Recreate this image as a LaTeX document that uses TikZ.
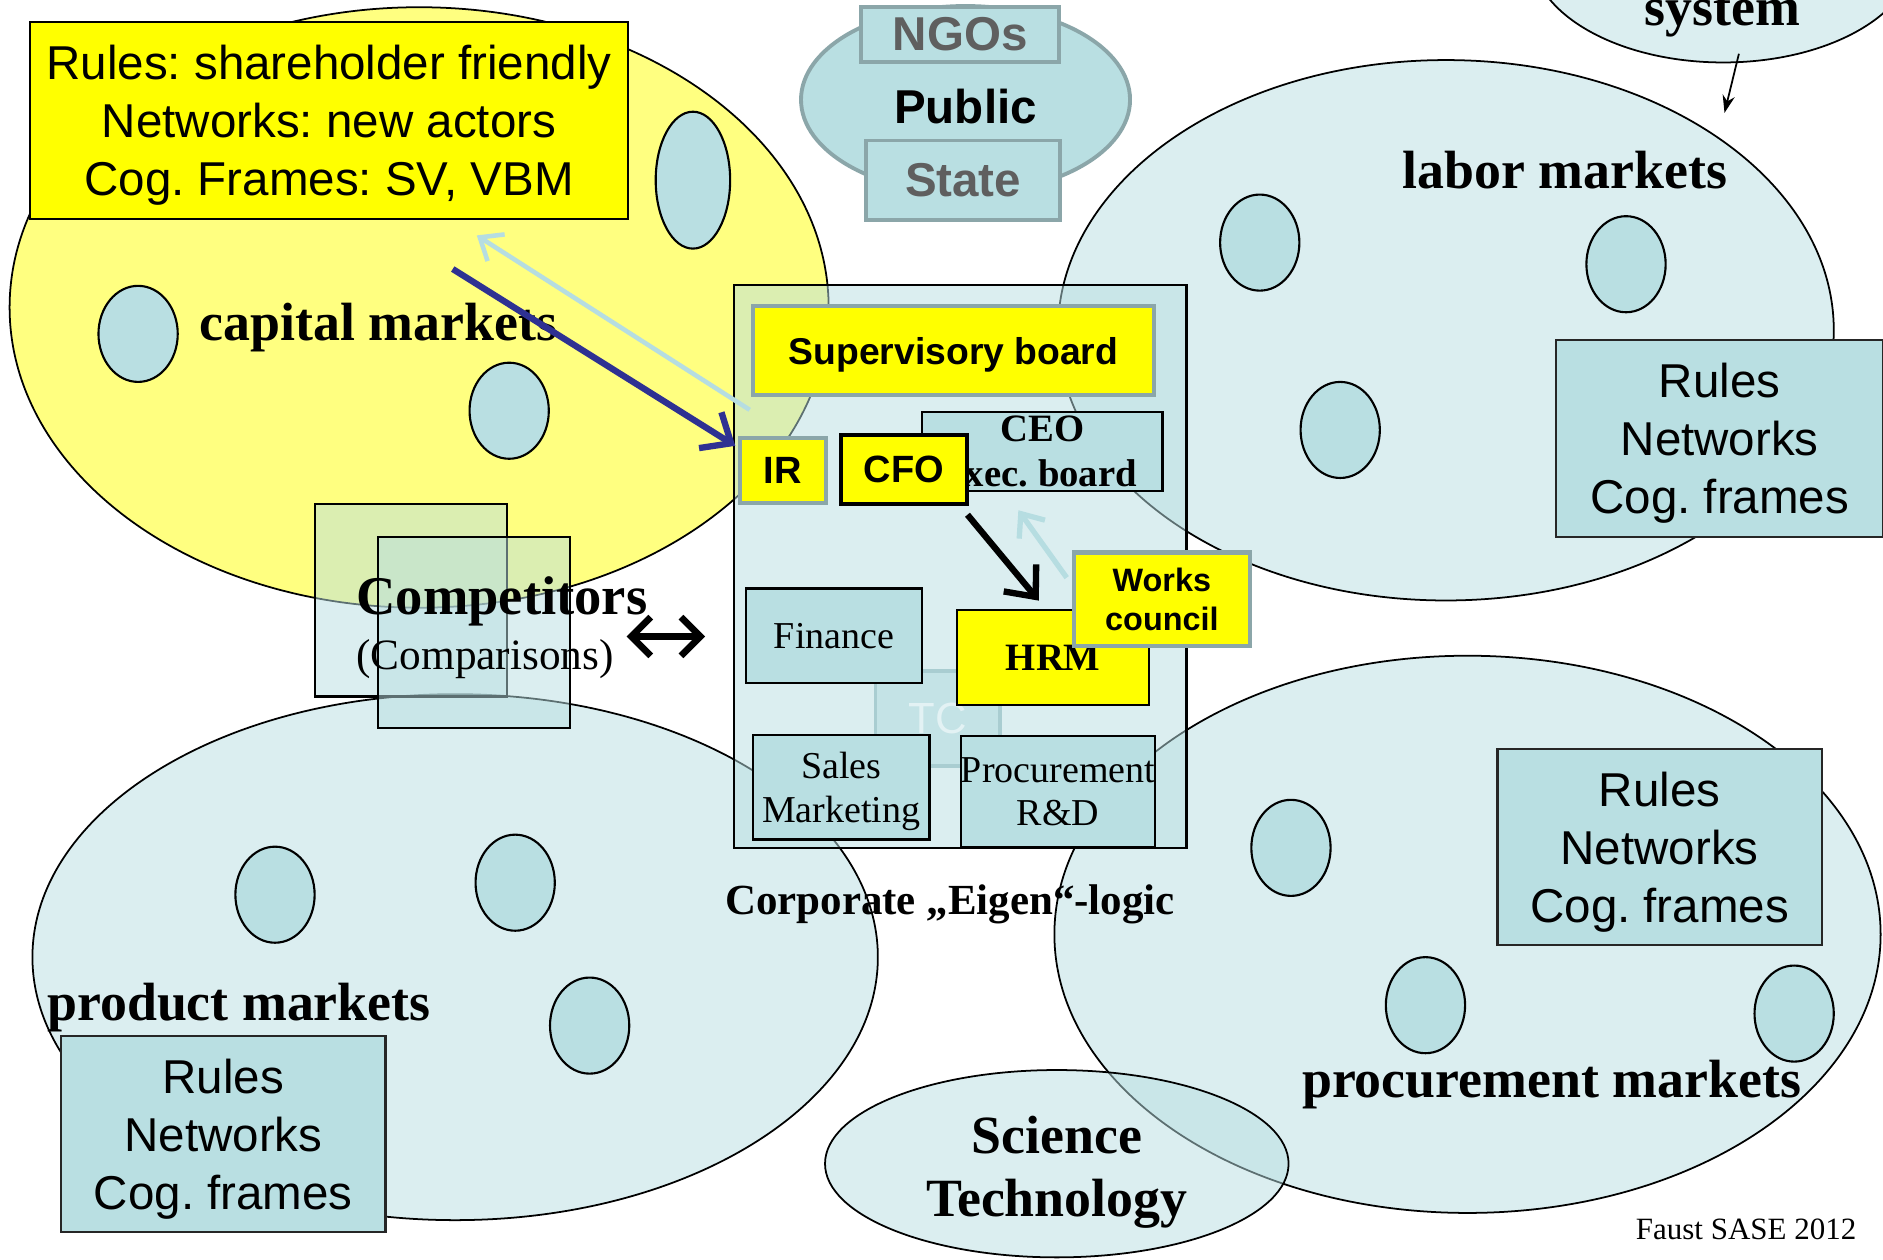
\documentclass[tikz,border=0pt]{standalone}
\usepackage{fontspec}
\setmainfont{Liberation Serif}
\newfontfamily\arial{Liberation Sans}
\usetikzlibrary{shapes.geometric,arrows.meta,calc}
\definecolor{lb}{HTML}{B9DFE2}
\definecolor{gb}{HTML}{8BA6A9}
\definecolor{ly}{HTML}{FFFF80}
\definecolor{yy}{HTML}{FFFF00}
\definecolor{navy}{HTML}{2E3192}
\definecolor{ngrey}{HTML}{5F5F5F}
\definecolor{tcb}{HTML}{A9CDD1}
\definecolor{tcf}{HTML}{C4E3E6}
\definecolor{arrlb}{HTML}{B6DDE1}
\newcommand\U{0.012cm}
\newcommand\fs[2]{\fontsize{#1}{#2}\selectfont}
\frenchspacing
\begin{document}
\frenchspacing
\begin{tikzpicture}[x=0.012cm, y=-0.012cm,
  sz/.style 2 args={minimum width=#1*\U, minimum height=#2*\U},
  bigell/.style={ellipse, draw=black, line width=0.5pt, fill=lb, fill opacity=0.5, inner sep=0pt},
  smell/.style={ellipse, draw=black, line width=0.6pt, fill=lb, minimum width=66*\U, minimum height=80*\U, inner sep=0pt},
  rbox/.style={draw=black!85, line width=0.6pt, fill=lb, inner sep=0pt, align=center, text depth=0pt, font=\arial\fs{13.5}{16.4}},
  ybox/.style={fill=yy, draw=gb, line width=1.2pt, inner sep=0pt, align=center},
  ibox/.style={draw=black, line width=0.6pt, fill=lb, inner sep=0pt, align=center, font=\fs{10.8}{12.3}},
  lab/.style={font=\bfseries\fs{15.3}{18}, inner sep=0pt, align=center},
  tbox/.style={draw=black, line width=0.6pt, fill=lb, fill opacity=0.5, inner sep=0pt},
  barb/.style={-{Straight Barb[length=7pt,width=12pt]}}
]
\useasboundingbox (0,0) rectangle (1568,1049);
\fill[white] (0,0) rectangle (1568,1049);
\clip (0,0) rectangle (1568,1049);

% big ellipses
\node[bigell, fill=ly, fill opacity=1, sz={682}{500}] (capm) at (349,256) {};
\node[bigell, sz={646}{450}] (labm) at (1204,275) {};
\node[bigell, sz={704}{438}] (prodm) at (379,797) {};
\node[bigell, sz={688}{464}] (procm) at (1222,778) {};
\node[bigell, sz={386}{156}] (scim) at (880,969) {};
\node[bigell, sz={320}{184}] (sysm) at (1435,-40) {};

% small ellipses
\node[smell, minimum width=62*\U, minimum height=114*\U] (c1) at (577,150) {};
\node[smell] (c2) at (115,278) {};
\node[smell] (c3) at (424,342) {};
\node[smell] (l1) at (1049,202) {};
\node[smell] (l2) at (1354,220) {};
\node[smell] (l3) at (1116,358) {};
\node[smell] (p1) at (229,745) {};
\node[smell] (p2) at (429,735) {};
\node[smell] (p3) at (491,854) {};
\node[smell] (q1) at (1075,706) {};
\node[smell] (q2) at (1187,837) {};
\node[smell] (q3) at (1494,844) {};

% rules boxes
\node[rbox, fill=yy, draw=black, sz={498}{164}] (rcap) at (274,100) {Rules: shareholder friendly\\Networks: new actors\\Cog. Frames: SV, VBM};
\node[rbox, sz={272}{164}] (rlab) at (1432,365) {Rules\\Networks\\Cog. frames};
\node[rbox, sz={270}{163}] (rprod) at (186,944.5) {Rules\\Networks\\Cog. frames};
\node[rbox, sz={270}{163}] (rproc) at (1382,705.5) {Rules\\Networks\\Cog. frames};

% public group
\node[ellipse, draw=gb, line width=1.1pt, fill=lb, sz={274}{156}, inner sep=0pt] (pub) at (804,83) {};
\node[font=\arial\bfseries\fs{13.5}{16}, inner sep=0pt] (pubt) at (804,89) {Public};
\node[ybox, fill=lb, line width=1.1pt, sz={165}{46}, font=\arial\bfseries\fs{13.5}{16}, text=ngrey] (ngo) at (799.5,28.5) {NGOs};
\node[ybox, fill=lb, line width=1.1pt, sz={162}{66}, font=\arial\bfseries\fs{13.5}{16}, text=ngrey] (state) at (802,150) {State};

% competitors
\node[tbox, sz={160}{160}] (compA) at (342,500) {};
\node[tbox, sz={160}{159}] (compB) at (395,526.5) {};

% corporate
\node[tbox, sz={377}{469}] (corp) at (799.5,471.5) {};
\node[draw=tcb, line width=1.1pt, fill=tcf, sz={104}{79}, inner sep=0pt, font=\arial\fs{12.4}{14}, text=white!60!lb] (tc) at (781,598.5) {TC};
\node[ibox, sz={147}{79}] (fin) at (694.5,529.5) {Finance};
\node[ibox, sz={147}{87}, text depth=0pt] (sales) at (700.5,655.5) {Sales\\Marketing};
\node[ibox, sz={160}{92}] (prd) at (881,659) {Procurement\\R\&D};
\node[ibox, fill=yy, font=\bfseries\fs{11}{13}, sz={160}{79}] (hrm) at (877,547.5) {HRM};
\node[ybox, sz={334}{74}, text depth=0pt, font=\arial\bfseries\fs{10.6}{12}] (sup) at (794,292) {Supervisory board};
\node[ibox, font=\bfseries\fs{11}{13}, sz={200}{66}] (ceo) at (868,376) {CEO\\exec. board};
\node[ybox, sz={72}{54}, font=\arial\bfseries\fs{10.8}{12}] (ir) at (652,392) {IR};
\node[ybox, draw=black, line width=1.1pt, sz={105}{58}, font=\arial\bfseries\fs{10.8}{12}] (cfo) at (752.5,391) {CFO};
\node[ybox, sz={147}{78}, font=\arial\bfseries\fs{9.2}{10.9}] (wc) at (967.5,499) {Works\\council};

% labels
\node[lab] (tcap) at (315,273) {capital markets};
\node[lab] (tlab) at (1303,142) {labor markets};
\node[lab] (tprod) at (199,839) {product markets};
\node[lab] (tproc) at (1292,903) {procurement markets};
\node[lab, font=\bfseries\fs{15.3}{18.1}] (tsci) at (880,976) {Science\\Technology};
\node[lab, anchor=base] (tsys) at (1434,21) {system};
\node[lab, font=\bfseries\fs{15.5}{18}] (tcomp) at (418,501) {Competitors};
\node[inner sep=0pt, font=\fs{12.3}{14}] (tcmp) at (404,549) {(Comparisons)};
\node[inner sep=0pt, font=\bfseries\fs{12.2}{14}] (tcorp) at (791,753) {Corporate „Eigen“-logic};
\node[inner sep=0pt, font=\fs{8.8}{10}] (faust) at (1454,1024) {Faust SASE 2012};

% arrows
\coordinate (navS) at (377,224);
\coordinate (lbE) at (397,196);
\coordinate (sysE) at (1436,94);
\draw[navy, line width=1.8pt, barb] (navS) -- ($(ir.north west)+(-2,8)$);
\draw[arrlb, line width=1.3pt, -{Straight Barb[length=5.5pt,width=9pt]}] ($(ir.north west)+(10,-22)$) -- (lbE);
\draw[black, line width=1.8pt, barb] ($(cfo.south east)+(-1,7)$) -- ($(hrm.north)+(-12,-7)$);
\draw[arrlb, line width=1.5pt, -{Straight Barb[length=5.5pt,width=9pt]}] ($(wc.west)+(-4,-18)$) -- ($(ceo.south)+(-20,15)$);
\draw[black, line width=0.5pt, -{Stealth[length=5pt,width=3.5pt]}] ($(sysm.south)+(13,-8)$) -- (sysE);
\draw[black, line width=1.9pt, {Straight Barb[length=5.5pt,width=11pt]}-{Straight Barb[length=5.5pt,width=11pt]}] ($(compB.east)+(46,3.5)$) -- ($(corp.west)+(-23,58.5)$);
\end{tikzpicture}
\end{document}
